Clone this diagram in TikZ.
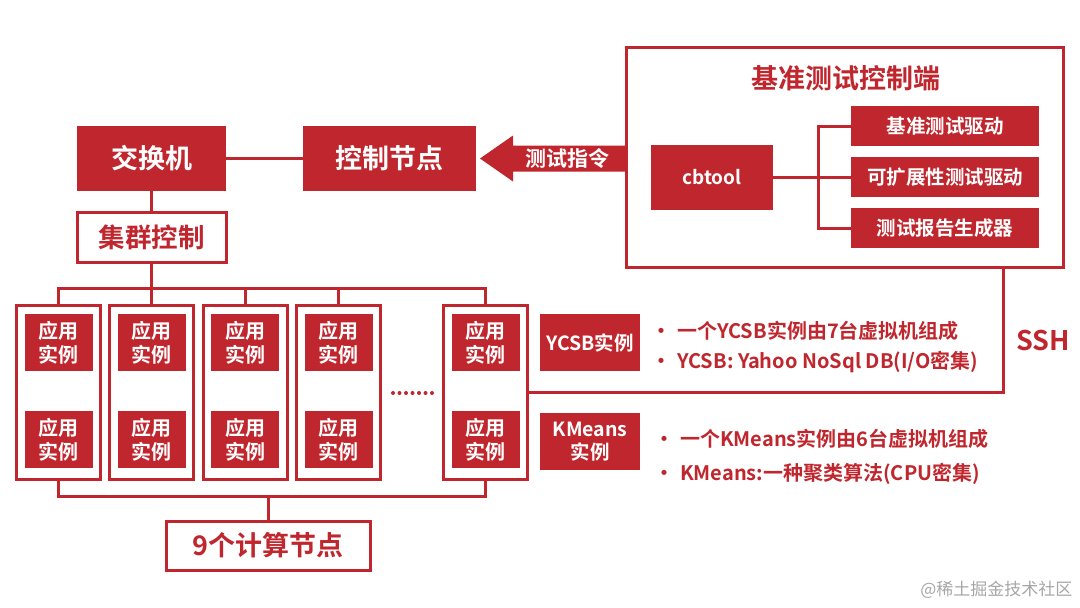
\documentclass[tikz,border=0pt]{standalone}
\usepackage{fontspec}
\setmainfont{Noto Sans CJK SC}[BoldFont={Noto Sans CJK SC Bold}]
\usetikzlibrary{calc}
\definecolor{brand}{RGB}{192,38,45}
\tikzset{
  solid/.style={fill=brand, text=white, font=\bfseries, inner sep=0pt, outer sep=0pt},
  hollow/.style={draw=brand, line width=3pt, fill=white, text=brand, font=\bfseries, inner sep=0pt, outer sep=0pt},
  wire/.style={draw=brand, line width=3pt},
  app/.style={solid, minimum width=68pt, minimum height=57pt, align=center, font=\fontsize{20}{24}\selectfont\bfseries},
  note/.style={anchor=west, text=brand, font=\fontsize{20}{24}\selectfont\bfseries, inner sep=0pt}
}
\begin{document}
\begin{tikzpicture}[x=1pt,y=-1pt]
    \useasboundingbox (0,0) rectangle (1080,608);

    % Switch, control node, cluster control
    \node[solid, minimum width=149pt, minimum height=65pt, font=\fontsize{27}{32}\selectfont\bfseries] (switch) at (151.5,158.5) {交换机};
    \node[solid, minimum width=173pt, minimum height=65pt, font=\fontsize{27}{32}\selectfont\bfseries] (ctrl) at (389.5,158.5) {控制节点};
    \node[hollow, minimum width=149pt, minimum height=50pt, font=\fontsize{26.5}{31}\selectfont\bfseries] (cluster) at (151.5,237.5) {集群控制};
    \draw[wire] (switch.east) -- (ctrl.west);
    \draw[wire] (switch.south) -- (cluster.north);

    % Benchmark console
    \node[draw=brand, line width=3pt, minimum width=437pt, minimum height=220pt, outer sep=0pt] (bench) at (844.5,157) {};
    \node[text=brand, font=\fontsize{27}{32}\selectfont\bfseries] (benchtitle) at (846,78) {基准测试控制端};
    \node[solid, minimum width=122pt, minimum height=65pt, font=\fontsize{19}{23}\selectfont\bfseries] (cbtool) at (712,177) {cbtool};
    \foreach \n/\y/\t in {1/126/基准测试驱动, 2/177/可扩展性测试驱动, 3/228/测试报告生成器}
        \node[solid, minimum width=188pt, minimum height=40pt, font=\fontsize{19.5}{23}\selectfont\bfseries] (drv\n) at (945,\y) {\t};
    \coordinate (fork) at ($(cbtool.east)+(45,0)$);
    \draw[wire] (cbtool.east) -- (drv2.west);
    \draw[wire] (drv1.west) -| (fork) |- (drv3.west);

    % Command arrow
    \coordinate (tip) at ($(ctrl.east)+(4,0)$);
    \coordinate (tail) at (bench.west |- ctrl.east);
    \fill[brand] (tip) -- ($(tip)+(33,-23)$) -- ($(tip)+(33,-13)$) -- ($(tail)+(0,-13)$)
        -- ($(tail)+(0,13)$) -- ($(tip)+(33,13)$) -- ($(tip)+(33,23)$) -- cycle;
    \node[text=white, font=\fontsize{21}{25}\selectfont\bfseries] (cmd) at ($(tip)!0.6!(tail)$) {测试指令};

    % Compute nodes
    \foreach \i/\x in {1/58.5, 2/151.5, 3/245, 4/338.5, 5/485.5} {
        \node[hollow, minimum width=84pt, minimum height=174pt] (f\i) at (\x,392) {};
        \node[app] (a\i) at ($(f\i.north)+(0,37.5)$) {应用\\实例};
        \node[app] (b\i) at ($(f\i.south)+(0,-39.5)$) {应用\\实例};
    }
    \foreach \k in {0,...,6}
        \fill[brand] (393+\k*6.5,393) circle (2pt);

    % Buses
    \draw[wire] (cluster.south) -- (f2.north);
    \draw[wire] (f1.north) -- ++(0,-17) -| (f5.north);
    \foreach \i in {3,4}
        \draw[wire] (f\i.north) -- ++(0,-17);
    \coordinate (bbus) at ($(f1.south)+(0,17)$);
    \draw[wire] (f1.south) -- (bbus) -| (f5.south);
    \node[hollow, minimum width=204pt, minimum height=49pt, font=\fontsize{27}{32}\selectfont\bfseries] (nodes) at (268,545.5) {9个计算节点};
    \draw[wire] (nodes.north) -- (nodes.north |- bbus);

    % SSH link
    \coordinate (sshx) at (1003,0);
    \draw[wire] (f5.east) -| (bench.south -| sshx);
    \node[text=brand, font=\fontsize{27}{32}\selectfont\bfseries] (ssh) at (1043,341) {SSH};

    % Workloads
    \node[solid, minimum width=100pt, minimum height=57pt, font=\fontsize{19.5}{23}\selectfont\bfseries] (ycsb) at (590,342.5) {YCSB实例};
    \node[solid, minimum width=100pt, minimum height=57pt, align=center, font=\fontsize{19.5}{23}\selectfont\bfseries] (kmeans) at (590,441.5) {KMeans\\实例};
    \node[note] (n1) at (651,331) {•\hspace{6pt}一个YCSB实例由7台虚拟机组成};
    \node[note] (n2) at (651,362) {•\hspace{6pt}YCSB: Yahoo NoSql DB(I/O密集)};
    \node[note] (n3) at (654,439) {•\hspace{6pt}一个KMeans实例由6台虚拟机组成};
    \node[note] (n4) at (654,474) {•\hspace{6pt}KMeans:一种聚类算法(CPU密集)};

    \node[text=black!35, font=\fontsize{17}{20}\selectfont, anchor=east] (mark) at (1076,590) {@稀土掘金技术社区};
\end{tikzpicture}
\end{document}
